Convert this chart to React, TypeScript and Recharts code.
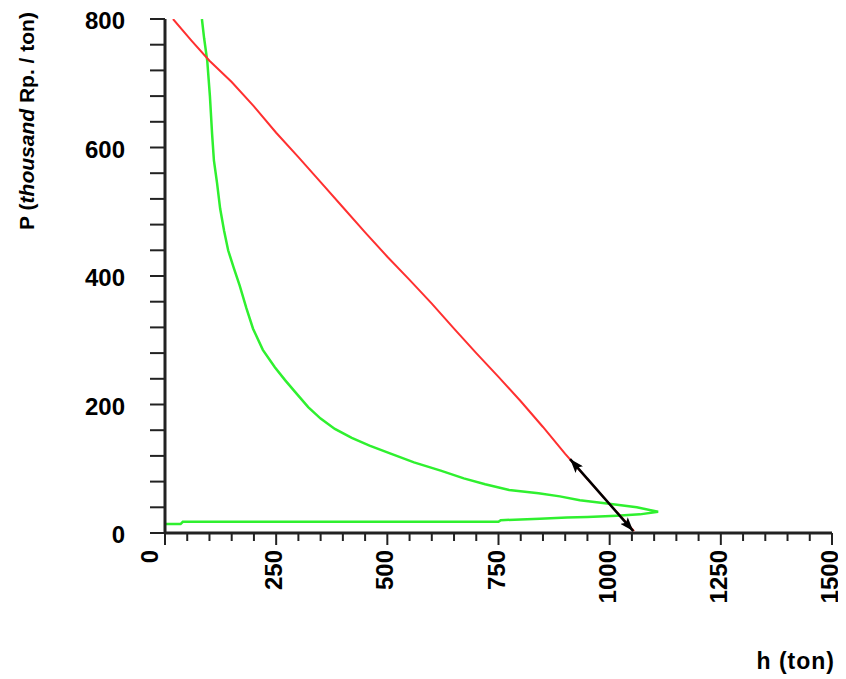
import { LineChart, Line, XAxis, YAxis } from "recharts";

// red curve (h, P)
const redX = [18, 60, 100, 150, 200, 250, 300, 350, 400, 450, 500, 550, 600, 650, 700, 750, 800, 850, 900, 950, 1000, 1055];
const redY = [800, 766, 735, 702, 664, 623, 585, 546, 507, 468, 430, 394, 357, 318, 280, 243, 205, 165, 123, 84, 45, 3];

// green curve, drawn in path order (goes out to the right and comes back along the bottom)
const greenX = [83, 88, 95, 101, 106, 110, 117, 124, 133, 142, 155, 168, 183, 198, 220, 247, 270, 292, 322, 350, 382, 420, 460, 506, 560, 620, 672, 720, 774, 840, 888, 933, 994, 1061, 1109, 1068, 1016, 950, 904, 843, 800, 755, 750, 40, 35, 2];
const greenY = [800, 770, 735, 680, 620, 580, 545, 505, 470, 440, 412, 385, 350, 318, 285, 258, 238, 220, 196, 178, 162, 148, 136, 124, 110, 97, 85, 76, 67, 62, 57, 51, 46, 40, 33, 29, 27, 25, 24, 22, 21, 20, 17.5, 17.5, 14, 14];

// double arrow
const arrowX = [911, 1053];
const arrowY = [115, 3];

const xMajor = [0, 250, 500, 750, 1000, 1250, 1500];
const yMajor = [0, 200, 400, 600, 800];
const xTicks = Array.from({ length: 31 }, (_, i) => i * 50);
const yTicks = Array.from({ length: 21 }, (_, i) => i * 40);

const red = redX.map((x, i) => ({ x, y: redY[i] }));
const green = greenX.map((x, i) => ({ x, y: greenY[i] }));
const arrow = arrowX.map((x, i) => ({ x, y: arrowY[i] }));

const FONT = "'Liberation Sans', Arial, sans-serif";
const AXIS = "#222";

const XTick = (props: any) => {
  const { x, y, payload } = props;
  const v = payload.value;
  const major = xMajor.includes(v);
  return (
    <g>
      <line x1={x} x2={x} y1={y} y2={y + (major ? 12 : 8)} stroke={AXIS} strokeWidth={2} />
      {major && (
        <text
          transform={`translate(${x + (v === 0 ? -7 : 6)},${y + 17}) rotate(-90)`}
          textAnchor="end"
          fontFamily={FONT}
          fontWeight="bold"
          fontSize={24}
          fill="#000"
        >
          {v}
        </text>
      )}
    </g>
  );
};

const YTick = (props: any) => {
  const { x, y, payload } = props;
  const v = payload.value;
  const major = yMajor.includes(v);
  return (
    <g>
      <line x1={x - 15} x2={x} y1={y} y2={y} stroke={AXIS} strokeWidth={2} />
      {major && (
        <text x={x - 40} y={y} dy="0.42em" textAnchor="end" fontFamily={FONT} fontWeight="bold" fontSize={24} fill="#000">
          {v}
        </text>
      )}
    </g>
  );
};

export default function App() {
  return (
    <LineChart width={838} height={671} margin={{ top: 11, right: 14, bottom: 0, left: 0 }}>
      <defs>
        <marker id="head" viewBox="0 0 14 10" refX="14" refY="5" markerWidth="14" markerHeight="10" markerUnits="userSpaceOnUse" orient="auto-start-reverse">
          <path d="M0,0 L14,5 L0,10 L3,5 Z" fill="#000" />
        </marker>
      </defs>
      <XAxis
        type="number"
        dataKey="x"
        domain={[0, 1500]}
        ticks={xTicks}
        interval={0}
        height={146}
        tickSize={0}
        tickMargin={0}
        tickLine={false}
        tick={<XTick />}
        axisLine={{ stroke: AXIS, strokeWidth: 3 }}
        allowDataOverflow
        label={{
          content: (p: any) => {
            const vb = p.viewBox;
            return (
              <text x={vb.x + vb.width + 3} y={vb.y + vb.height - 10} textAnchor="end" fontFamily={FONT} fontWeight="bold" fontSize={23} letterSpacing={1} fill="#000">
                h (ton)
              </text>
            );
          },
        }}
      />
      <YAxis
        type="number"
        dataKey="y"
        domain={[0, 800]}
        ticks={yTicks}
        interval={0}
        width={157}
        tickSize={0}
        tickMargin={0}
        tickLine={false}
        tick={<YTick />}
        axisLine={{ stroke: AXIS, strokeWidth: 3 }}
        allowDataOverflow
        label={{
          content: (p: any) => {
            const vb = p.viewBox;
            const cx = vb.x + 26;
            const cy = vb.y + 102;
            return (
              <text transform={`translate(${cx},${cy}) rotate(-90)`} textAnchor="middle" fontFamily={FONT} fontWeight="bold" fontSize={21} fill="#000">
                P (<tspan fontStyle="italic">thousand</tspan> Rp. / ton)
              </text>
            );
          },
        }}
      />
      <Line data={green} dataKey="y" type="linear" stroke="#2ff02f" strokeWidth={2.5} dot={false} isAnimationActive={false} />
      <Line data={red} dataKey="y" type="linear" stroke="#ff3030" strokeWidth={2} dot={false} isAnimationActive={false} />
      <Line
        data={arrow}
        dataKey="y"
        type="linear"
        stroke="#000"
        strokeWidth={2.5}
        dot={false}
        isAnimationActive={false}
        markerStart="url(#head)"
        markerEnd="url(#head)"
      />
    </LineChart>
  );
}
